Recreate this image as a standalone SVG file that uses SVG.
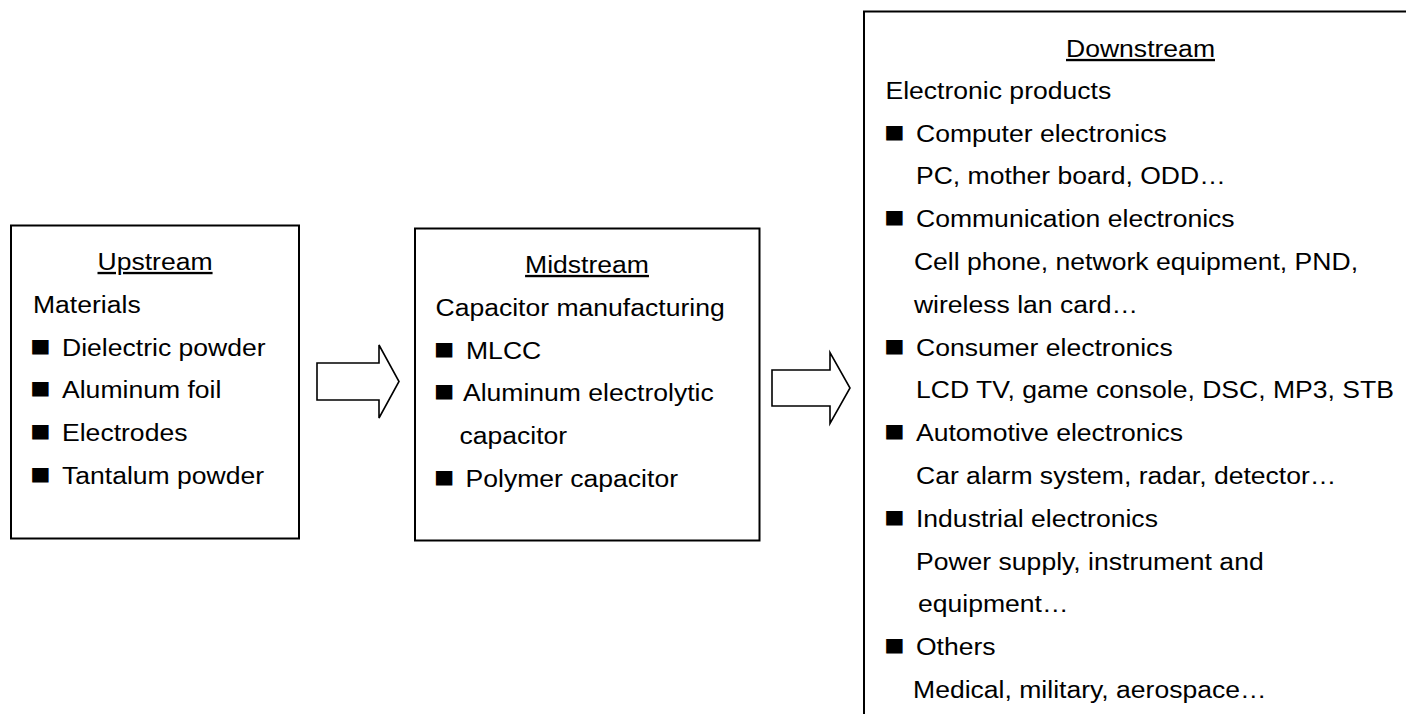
<svg xmlns="http://www.w3.org/2000/svg" width="1406" height="714" viewBox="0 0 1406 714">
  <style>
    .box { fill: #ffffff; stroke: #000000; stroke-width: 2; }
    .arrow { fill: #ffffff; stroke: #000000; stroke-width: 1.6; stroke-linejoin: miter; }
    text { font-family: "Liberation Sans", Arial, sans-serif; font-size: 23.5px; fill: #000000; }
    .title { text-anchor: middle; text-decoration: underline; }
    .b { font-size: 30px; }
  </style>
  <rect x="0" y="0" width="1406" height="714" fill="#ffffff"/>

  <!-- Upstream: raw materials -->
  <g id="upstream">
    <rect class="box" x="11" y="225.5" width="288" height="313"/>
    <g transform="scale(1.13 1)">
      <text class="title" x="137.2" y="270">Upstream</text>
      <text x="29.2" y="312.8">Materials</text>
      <text y="355.6"><tspan class="b" x="26.5">■</tspan><tspan x="54.9">Dielectric powder</tspan></text>
      <text y="398.4"><tspan class="b" x="26.5">■</tspan><tspan x="54.9">Aluminum foil</tspan></text>
      <text y="441.2"><tspan class="b" x="26.5">■</tspan><tspan x="54.9">Electrodes</tspan></text>
      <text y="484"><tspan class="b" x="26.5">■</tspan><tspan x="54.9">Tantalum powder</tspan></text>
    </g>
  </g>

  <!-- Midstream: capacitor manufacturing -->
  <g id="midstream">
    <rect class="box" x="415" y="228.5" width="344.5" height="312"/>
    <g transform="scale(1.13 1)">
      <text class="title" x="519.5" y="273">Midstream</text>
      <text x="385.4" y="315.8">Capacitor manufacturing</text>
      <text y="358.6"><tspan class="b" x="383.8">■</tspan><tspan x="412.4">MLCC</tspan></text>
      <text y="401.4"><tspan class="b" x="383.8">■</tspan><tspan x="409.7">Aluminum electrolytic</tspan></text>
      <text x="406.6" y="444.2">capacitor</text>
      <text y="487"><tspan class="b" x="383.8">■</tspan><tspan x="412">Polymer capacitor</tspan></text>
    </g>
  </g>

  <!-- Downstream: electronic products (box runs past the page edge) -->
  <g id="downstream">
    <rect class="box" x="864" y="11.5" width="600" height="800"/>
    <g transform="scale(1.13 1)">
      <text class="title" x="1009.3" y="57">Downstream</text>
      <text x="783.6" y="98.8">Electronic products</text>
      <text y="141.6"><tspan class="b" x="782.3">■</tspan><tspan x="810.6">Computer electronics</tspan></text>
      <text x="810.6" y="184.4">PC, mother board, ODD…</text>
      <text y="227.2"><tspan class="b" x="782.3">■</tspan><tspan x="810.6">Communication electronics</tspan></text>
      <text x="808.8" y="270">Cell phone, network equipment, PND,</text>
      <text x="808.8" y="312.8">wireless lan card…</text>
      <text y="355.6"><tspan class="b" x="782.3">■</tspan><tspan x="810.6">Consumer electronics</tspan></text>
      <text x="810.6" y="398.4">LCD TV, game console, DSC, MP3, STB</text>
      <text y="441.2"><tspan class="b" x="782.3">■</tspan><tspan x="810.6">Automotive electronics</tspan></text>
      <text x="810.6" y="484">Car alarm system, radar, detector…</text>
      <text y="526.8"><tspan class="b" x="782.3">■</tspan><tspan x="810.6">Industrial electronics</tspan></text>
      <text x="810.6" y="569.6">Power supply, instrument and</text>
      <text x="812.4" y="612.4">equipment…</text>
      <text y="655.2"><tspan class="b" x="782.3">■</tspan><tspan x="810.6">Others</tspan></text>
      <text x="808" y="698">Medical, military, aerospace…</text>
    </g>
  </g>

  <!-- Block arrows between stages -->
  <g id="connectors">
    <polygon class="arrow" points="317,363 379,363 379,345 399,381.5 379,418 379,400 317,400"/>
    <polygon class="arrow" points="772,370 830,370 830,352.5 850,388 830,423.5 830,406 772,406"/>
  </g>
</svg>
